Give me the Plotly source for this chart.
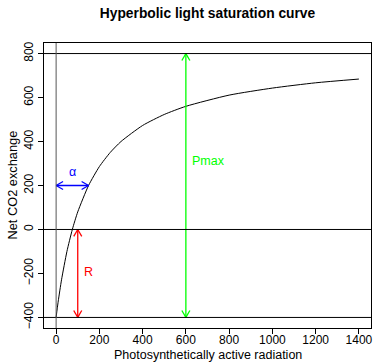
import plotly.graph_objects as go
import numpy as np

# Curve values
par = [0, 5, 10, 25, 50, 75, 100, 150, 200, 250, 300, 400, 500, 600, 800, 1000, 1200, 1400]
net_co2 = [-400, -361, -325, -229, -100, 0, 80, 200, 286, 350, 400, 473, 523, 560, 611, 643, 667, 684]

# Reference lines
hlines = [800, 0, -400]
vlines = [0]

# Annotated arrows
alpha_arrow = dict(x0=0, y0=200, x1=150, y1=200, color="#0000FF", label="α", lx=75, ly=262, anchor="center")
pmax_arrow = dict(x0=600, y0=-400, x1=600, y1=800, color="#00FF00", label="Pmax", lx=618, ly=312, anchor="left")
r_arrow = dict(x0=100, y0=0, x1=100, y1=-400, color="#FF0000", label="R", lx=120, ly=-193, anchor="left")

xrange_ = [-56, 1456]
yrange_ = [-448, 848]
xticks = list(range(0, 1401, 200))
yticks = list(range(-400, 801, 200))

W, H = 376, 362
ml, mr, mt, mb = 44, 5, 43, 34
pw, ph = W - ml - mr, H - mt - mb
sx = pw / (xrange_[1] - xrange_[0])
sy = ph / (yrange_[1] - yrange_[0])
FONT = "Liberation Sans, Arial"

fig = go.Figure()

fig.add_trace(go.Scatter(x=par, y=net_co2, mode="lines",
                         line=dict(color="black", width=1, shape="spline", smoothing=0.6),
                         hoverinfo="skip", showlegend=False))

for h in hlines:
    fig.add_shape(type="line", xref="paper", x0=0, x1=1, y0=h, y1=h, line=dict(color="black", width=1))
for v in vlines:
    fig.add_shape(type="line", yref="paper", y0=0, y1=1, x0=v, x1=v, line=dict(color="#555555", width=1))


def arrow(a):
    x0, y0, x1, y1, c = a["x0"], a["y0"], a["x1"], a["y1"], a["color"]
    xs = [x0, x1, None]
    ys = [y0, y1, None]
    dxp = (x1 - x0) * sx
    dyp = (y1 - y0) * sy
    L = np.hypot(dxp, dyp)
    ux, uy = dxp / L, dyp / L
    hl = 8.0
    ang = np.deg2rad(30)
    for (px, py, dx, dy) in [(x1, y1, ux, uy), (x0, y0, -ux, -uy)]:
        for s in (1, -1):
            ca, sa = np.cos(s * ang), np.sin(s * ang)
            rx = -(dx * ca - dy * sa) * hl
            ry = -(dx * sa + dy * ca) * hl
            xs += [px, px + rx / sx, None]
            ys += [py, py + ry / sy, None]
    fig.add_trace(go.Scatter(x=xs, y=ys, mode="lines", line=dict(color=c, width=1.3),
                             hoverinfo="skip", showlegend=False))
    fig.add_annotation(x=a["lx"], y=a["ly"], text=a["label"], showarrow=False, xanchor=a["anchor"],
                       font=dict(color=c, size=12.5, family=FONT))


for a in (alpha_arrow, pmax_arrow, r_arrow):
    arrow(a)

axis_common = dict(showgrid=False, zeroline=False, showline=True, linecolor="black", linewidth=1,
                   mirror=True, ticks="outside", ticklen=5, tickcolor="black", automargin=False,
                   tickfont=dict(size=12, color="black", family=FONT))

fig.update_xaxes(range=xrange_, tickvals=xticks, ticktext=[str(t) for t in xticks],
                 ticklabelstandoff=-4, **axis_common)
fig.update_yaxes(range=yrange_, tickvals=yticks, ticktext=[str(t).replace("-", "\u2212") for t in yticks],
                 tickangle=-90, **axis_common)

# Axis titles placed as annotations (pixel positions relative to the plot area)
fig.add_annotation(text="Photosynthetically active radiation", xref="paper", yref="paper",
                   x=0.5, y=0, yshift=-(354.5 - (H - mb)), showarrow=False, yanchor="middle",
                   font=dict(size=12.5, color="black", family=FONT))
fig.add_annotation(text="Net CO2 exchange", xref="paper", yref="paper",
                   x=0, y=0.5, xshift=-(ml - 12), showarrow=False, xanchor="center", textangle=-90,
                   font=dict(size=12.8, color="black", family=FONT))

fig.update_layout(
    width=W, height=H,
    margin=dict(l=ml, r=mr, t=mt, b=mb, autoexpand=False),
    paper_bgcolor="white", plot_bgcolor="white",
    title=dict(text="<b>Hyperbolic light saturation curve</b>", x=(ml + pw / 2) / W, xanchor="center",
               y=1 - 13 / H, yanchor="middle",
               font=dict(size=13.8, color="black", family=FONT)),
)

fig.write_html("out.html")
